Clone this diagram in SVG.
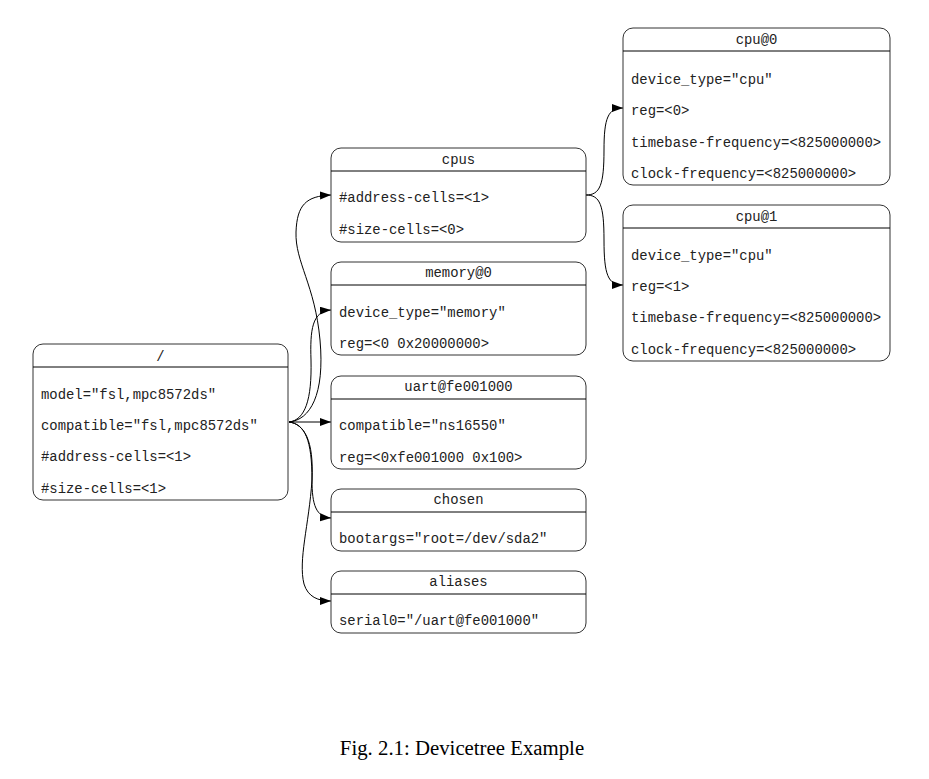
<svg xmlns="http://www.w3.org/2000/svg" width="929" height="779" viewBox="0 0 929 779">
<style>
.box{fill:#fff;stroke:#333;stroke-width:1}
.sep{stroke:#000;stroke-width:1}
.t{font-family:"Liberation Mono","DejaVu Sans Mono",monospace;font-size:13.9px;fill:#222}
.h{text-anchor:middle}
.e{fill:none;stroke:#000;stroke-width:1}
.cap{font-family:"Liberation Serif","Times New Roman",serif;font-size:20.8px;fill:#000;text-anchor:middle}
</style>
<defs>
<marker id="arr" markerWidth="12" markerHeight="9" refX="11" refY="4" orient="auto" markerUnits="userSpaceOnUse">
<path d="M0,0 L11,4 L0,8 z" fill="#000"/>
</marker>
</defs>
<rect width="929" height="779" fill="#fff"/>
<g id="edges">
<path class="e" marker-end="url(#arr)" d="M289,422 C310,420 325,395 320,340 C315,285 295,262 296,232 C297,205 306,196 331,195"/>
<path class="e" marker-end="url(#arr)" d="M289,422 C305,420 312,400 311,360 C310,330 312,311 331,310"/>
<path class="e" marker-end="url(#arr)" d="M289,422 L331,422"/>
<path class="e" marker-end="url(#arr)" d="M289,422 C305,424 312,440 312,480 C312,505 316,517 331,518"/>
<path class="e" marker-end="url(#arr)" d="M289,422 C304,424 314,440 312,480 C309,525 298,560 304,584 C308,597 318,601 331,601"/>
<path class="e" marker-end="url(#arr)" d="M586,195 C600,195 604,185 604,150 C604,118 608,108 623,108"/>
<path class="e" marker-end="url(#arr)" d="M586,195 C600,195 604,205 604,240 C604,275 608,285 623,285"/>
</g>
<g id="root">
<rect class="box" x="33" y="344" width="255" height="156" rx="10"/>
<line class="sep" x1="33" y1="367" x2="288" y2="367"/>
<text class="t h" x="160.5" y="361">/</text>
<text class="t" x="41" y="399">model="fsl,mpc8572ds"</text>
<text class="t" x="41" y="430">compatible="fsl,mpc8572ds"</text>
<text class="t" x="41" y="461">#address-cells=&lt;1&gt;</text>
<text class="t" x="41" y="493">#size-cells=&lt;1&gt;</text>
</g>
<g id="cpus">
<rect class="box" x="331" y="148" width="255" height="94" rx="10"/>
<line class="sep" x1="331" y1="171" x2="586" y2="171"/>
<text class="t h" x="458.5" y="164">cpus</text>
<text class="t" x="339" y="202">#address-cells=&lt;1&gt;</text>
<text class="t" x="339" y="234">#size-cells=&lt;0&gt;</text>
</g>
<g id="memory">
<rect class="box" x="331" y="262" width="255" height="93" rx="10"/>
<line class="sep" x1="331" y1="285" x2="586" y2="285"/>
<text class="t h" x="458.5" y="277">memory@0</text>
<text class="t" x="339" y="317">device_type="memory"</text>
<text class="t" x="339" y="348">reg=&lt;0 0x20000000&gt;</text>
</g>
<g id="uart">
<rect class="box" x="331" y="376" width="255" height="93" rx="10"/>
<line class="sep" x1="331" y1="399" x2="586" y2="399"/>
<text class="t h" x="458.5" y="391">uart@fe001000</text>
<text class="t" x="339" y="430">compatible="ns16550"</text>
<text class="t" x="339" y="462">reg=&lt;0xfe001000 0x100&gt;</text>
</g>
<g id="chosen">
<rect class="box" x="331" y="489" width="255" height="62" rx="10"/>
<line class="sep" x1="331" y1="512" x2="586" y2="512"/>
<text class="t h" x="458.5" y="504">chosen</text>
<text class="t" x="339" y="543">bootargs="root=/dev/sda2"</text>
</g>
<g id="aliases">
<rect class="box" x="331" y="571" width="255" height="62" rx="10"/>
<line class="sep" x1="331" y1="594" x2="586" y2="594"/>
<text class="t h" x="458.5" y="586">aliases</text>
<text class="t" x="339" y="625">serial0="/uart@fe001000"</text>
</g>
<g id="cpu0">
<rect class="box" x="623" y="28" width="267" height="157" rx="10"/>
<line class="sep" x1="623" y1="51" x2="890" y2="51"/>
<text class="t h" x="756.5" y="44">cpu@0</text>
<text class="t" x="631" y="84">device_type="cpu"</text>
<text class="t" x="631" y="115">reg=&lt;0&gt;</text>
<text class="t" x="631" y="147">timebase-frequency=&lt;825000000&gt;</text>
<text class="t" x="631" y="178">clock-frequency=&lt;825000000&gt;</text>
</g>
<g id="cpu1">
<rect class="box" x="623" y="205" width="267" height="156" rx="10"/>
<line class="sep" x1="623" y1="228" x2="890" y2="228"/>
<text class="t h" x="756.5" y="221">cpu@1</text>
<text class="t" x="631" y="260">device_type="cpu"</text>
<text class="t" x="631" y="291">reg=&lt;1&gt;</text>
<text class="t" x="631" y="322">timebase-frequency=&lt;825000000&gt;</text>
<text class="t" x="631" y="354">clock-frequency=&lt;825000000&gt;</text>
</g>
<text class="cap" x="462" y="755">Fig. 2.1: Devicetree Example</text>
</svg>
